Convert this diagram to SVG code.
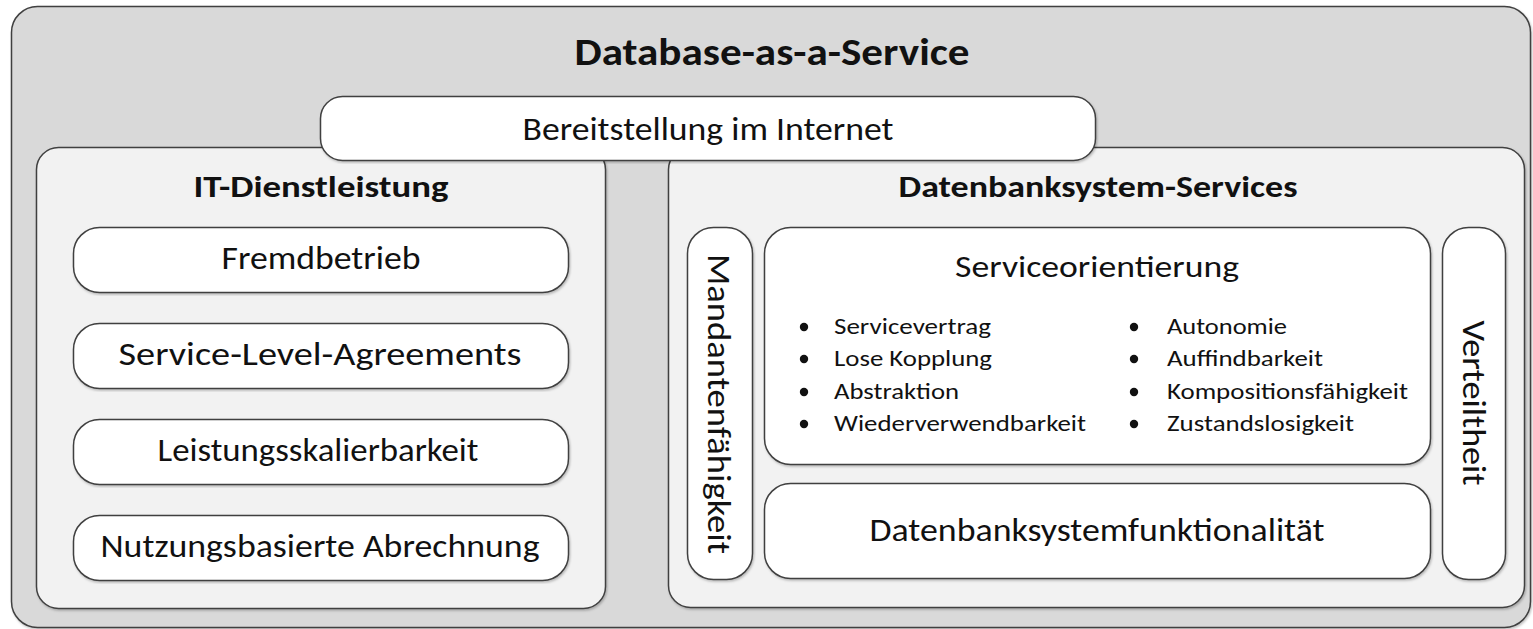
<svg xmlns="http://www.w3.org/2000/svg" width="1533" height="629" viewBox="0 0 1533 629">
  <style>
    .box { stroke: #404040; stroke-width: 1.5; }
    .outer { fill: #d9d9d9; }
    .panel { fill: #f2f2f2; }
    .item { fill: #ffffff; }
    text { font-family: Carlito, Lato, "Liberation Sans", sans-serif; fill: #111111; }
    .title { font-size: 39px; font-weight: bold; text-anchor: middle; }
    .head { font-size: 31px; font-weight: bold; text-anchor: middle; }
    .lbl { font-size: 33px; text-anchor: middle; }
    .big { font-size: 31px; text-anchor: middle; }
    .bul { font-size: 22px; }
    .dot { fill: #111111; }
  </style>
  <defs>
    <filter id="shadow" x="-5%" y="-5%" width="110%" height="110%">
      <feDropShadow dx="1" dy="1.5" stdDeviation="0.8" flood-color="#000000" flood-opacity="0.25"/>
    </filter>
  </defs>

  <!-- outer frame -->
  <g id="daas">
    <rect class="box outer" x="11.5" y="6.5" width="1519" height="621" rx="26" filter="url(#shadow)"/>
    <text class="title" x="772" y="65" textLength="395" lengthAdjust="spacingAndGlyphs">Database-as-a-Service</text>
  </g>

  <!-- IT service panel -->
  <g id="it-dienstleistung">
    <rect class="box panel" x="36.5" y="147.5" width="569" height="461" rx="22" filter="url(#shadow)"/>
    <text class="head" x="321" y="197" textLength="255" lengthAdjust="spacingAndGlyphs">IT-Dienstleistung</text>
  </g>
  <g id="fremdbetrieb">
    <rect class="box item" x="73.5" y="227.5" width="495" height="65" rx="26" filter="url(#shadow)"/>
    <text class="lbl" x="321" y="269" textLength="199" lengthAdjust="spacingAndGlyphs">Fremdbetrieb</text>
  </g>
  <g id="sla">
    <rect class="box item" x="73.5" y="323.5" width="495" height="65" rx="26" filter="url(#shadow)"/>
    <text class="lbl" x="320" y="365" textLength="403" lengthAdjust="spacingAndGlyphs">Service-Level-Agreements</text>
  </g>
  <g id="leistungsskalierbarkeit">
    <rect class="box item" x="73.5" y="419.5" width="495" height="65" rx="26" filter="url(#shadow)"/>
    <text class="lbl" x="318" y="461" textLength="321" lengthAdjust="spacingAndGlyphs">Leistungsskalierbarkeit</text>
  </g>
  <g id="abrechnung">
    <rect class="box item" x="73.5" y="515.5" width="495" height="65" rx="26" filter="url(#shadow)"/>
    <text class="lbl" x="320" y="557" textLength="439" lengthAdjust="spacingAndGlyphs">Nutzungsbasierte Abrechnung</text>
  </g>

  <!-- DBS services panel -->
  <g id="dbs-services">
    <rect class="box panel" x="668.5" y="147.5" width="856" height="460" rx="22" filter="url(#shadow)"/>
    <text class="head" x="1098" y="197" textLength="399" lengthAdjust="spacingAndGlyphs">Datenbanksystem-Services</text>
  </g>
  <g id="mandantenfaehigkeit">
    <rect class="box item" x="687.5" y="227.5" width="65" height="352" rx="26" filter="url(#shadow)"/>
    <text class="lbl" transform="translate(708,404) rotate(90)" x="0" y="0" textLength="300" lengthAdjust="spacingAndGlyphs">Mandantenfähigkeit</text>
  </g>
  <g id="serviceorientierung">
    <rect class="box item" x="764.5" y="227.5" width="666" height="237" rx="26" filter="url(#shadow)"/>
    <text class="big" x="1097" y="277" textLength="284" lengthAdjust="spacingAndGlyphs">Serviceorientierung</text>
    <circle class="dot" cx="804" cy="327" r="4.2"/>
    <circle class="dot" cx="804" cy="359" r="4.2"/>
    <circle class="dot" cx="804" cy="392" r="4.2"/>
    <circle class="dot" cx="804" cy="424" r="4.2"/>
    <text class="bul" x="834" y="334" textLength="157" lengthAdjust="spacingAndGlyphs">Servicevertrag</text>
    <text class="bul" x="834" y="366" textLength="158" lengthAdjust="spacingAndGlyphs">Lose Kopplung</text>
    <text class="bul" x="834" y="399" textLength="125" lengthAdjust="spacingAndGlyphs">Abstraktion</text>
    <text class="bul" x="834" y="431" textLength="252" lengthAdjust="spacingAndGlyphs">Wiederverwendbarkeit</text>
    <circle class="dot" cx="1134" cy="327" r="4.2"/>
    <circle class="dot" cx="1134" cy="359" r="4.2"/>
    <circle class="dot" cx="1134" cy="392" r="4.2"/>
    <circle class="dot" cx="1134" cy="424" r="4.2"/>
    <text class="bul" x="1167" y="334" textLength="120" lengthAdjust="spacingAndGlyphs">Autonomie</text>
    <text class="bul" x="1167" y="366" textLength="156" lengthAdjust="spacingAndGlyphs">Auffindbarkeit</text>
    <text class="bul" x="1167" y="399" textLength="241" lengthAdjust="spacingAndGlyphs">Kompositionsfähigkeit</text>
    <text class="bul" x="1167" y="431" textLength="187" lengthAdjust="spacingAndGlyphs">Zustandslosigkeit</text>
  </g>
  <g id="dbs-funktionalitaet">
    <rect class="box item" x="764.5" y="483.5" width="666" height="95" rx="26" filter="url(#shadow)"/>
    <text class="lbl" x="1097" y="541" textLength="455" lengthAdjust="spacingAndGlyphs">Datenbanksystemfunktionalität</text>
  </g>
  <g id="verteiltheit">
    <rect class="box item" x="1442.5" y="227.5" width="63" height="352" rx="26" filter="url(#shadow)"/>
    <text class="lbl" transform="translate(1463,403) rotate(90)" x="0" y="0" textLength="165" lengthAdjust="spacingAndGlyphs">Verteiltheit</text>
  </g>

  <!-- delivery banner, overlapping both panels -->
  <g id="bereitstellung">
    <rect class="box item" x="320.5" y="96.5" width="775" height="64" rx="22" filter="url(#shadow)"/>
    <text class="lbl" x="708" y="140" style="font-size:32px" textLength="371" lengthAdjust="spacingAndGlyphs">Bereitstellung im Internet</text>
  </g>
</svg>
